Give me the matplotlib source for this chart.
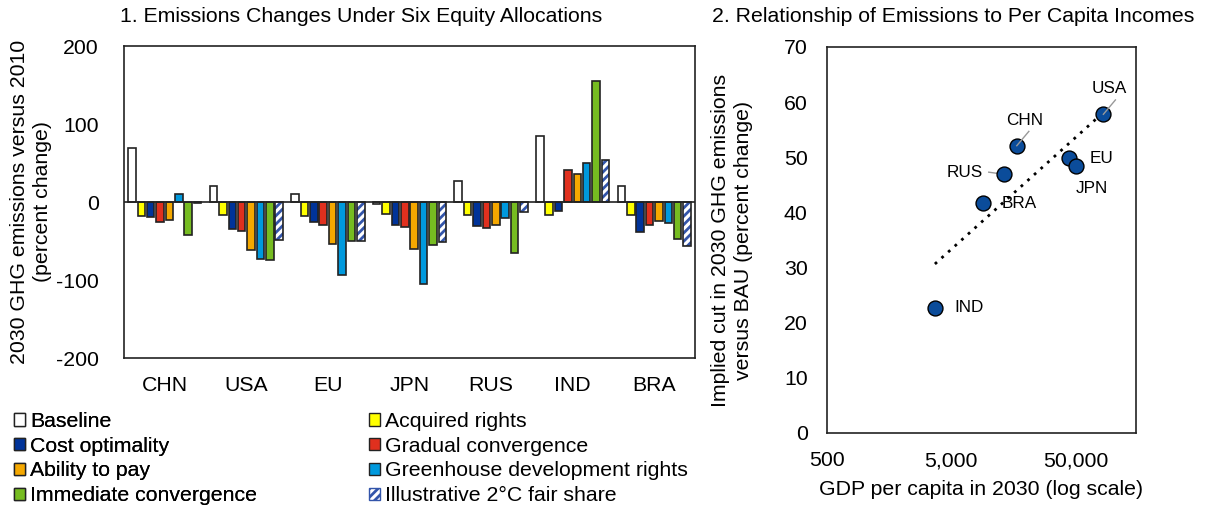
import numpy as np
import matplotlib
matplotlib.use("Agg")
import matplotlib.pyplot as plt
from matplotlib.patches import Patch

plt.rcParams["font.family"] = ["Liberation Sans", "DejaVu Sans"]
plt.rcParams["hatch.linewidth"] = 2.0
plt.rcParams["axes.unicode_minus"] = False

# Panel 1 data
regions = ["CHN", "USA", "EU", "JPN", "RUS", "IND", "BRA"]
allocations = ["Baseline", "Acquired rights", "Cost optimality", "Gradual convergence",
               "Ability to pay", "Greenhouse development rights",
               "Immediate convergence", "Illustrative 2°C fair share"]
baseline = [69, 21, 10, -2.5, 27, 85, 20]
acquired = [-17.5, -17, -18, -16, -17, -17, -17]
cost_opt = [-19, -35, -25, -30, -31, -11, -38]
gradual = [-25.5, -37, -30, -32, -33, 41, -29.5]
ability = [-22.5, -61, -54, -60, -29, 36, -24]
gdr = [10, -73.5, -94, -105.5, -20, 50, -26.5]
immediate = [-42, -74, -50, -55.5, -66, 155.5, -48]
fair_share = [-1, -49, -50, -51, -13, 54, -56]
series = [baseline, acquired, cost_opt, gradual, ability, gdr, immediate, fair_share]
colors = ["white", "#FFFF00", "#003399", "#E0301E", "#F5A800", "#0099DD", "#76BC21", "white"]

# Panel 2 data
countries = ["IND", "BRA", "RUS", "CHN", "EU", "JPN", "USA"]
gdp_pc = [3690, 8950, 13370, 16820, 44450, 50000, 83600]
cut = [22.7, 41.7, 46.9, 52.1, 49.8, 48.4, 57.8]

fig = plt.figure(figsize=(12.06, 5.09), dpi=100)
fs = 15.3

# ---- left panel
ax1 = fig.add_axes([124/1206, 1-358/509, 571/1206, 312/509])
x = np.arange(len(regions))
slot = 0.115
w = 0.092
for k, vals in enumerate(series):
    off = (k - 3.5) * slot
    if k == 7:
        ax1.bar(x + off, vals, w, color="white", edgecolor="#3355AA", hatch="////",
                linewidth=0, zorder=2)
        ax1.bar(x + off, vals, w, color="none", edgecolor="#222222", linewidth=1.2, zorder=3)
    else:
        ax1.bar(x + off, vals, w, color=colors[k], edgecolor="#222222", linewidth=1.2, zorder=2)
ax1.axhline(0, color="#222222", lw=1.2, zorder=4)
ax1.set_xlim(-0.5, len(regions) - 0.5)
ax1.set_ylim(-200, 200)
ax1.set_yticks([-200, -100, 0, 100, 200])
ax1.set_xticks(x)
ax1.set_xticklabels(regions)
ax1.tick_params(length=0, labelsize=fs)
ax1.tick_params(axis="x", pad=13)
ax1.tick_params(axis="y", pad=18)
for s in ax1.spines.values():
    s.set_color("#222222")
    s.set_linewidth(1.2)
ax1.set_ylabel("2030 GHG emissions versus 2010\n(percent change)", fontsize=fs, labelpad=3,
               linespacing=1.25)
fig.text(120/1206, 1-17/509, "1. Emissions Changes Under Six Equity Allocations",
         fontsize=fs, va="center", ha="left")

handles = []
for k, lab in enumerate(allocations):
    if k == 7:
        handles.append(Patch(facecolor="white", edgecolor="#3355AA", hatch="////", label=lab))
    else:
        handles.append(Patch(facecolor=colors[k], edgecolor="#222222", label=lab))
leg_kw = dict(loc="upper left", ncol=1, frameon=False, fontsize=fs, handlelength=0.5,
              handleheight=0.5, handletextpad=0.25, labelspacing=0.27,
              borderpad=0, borderaxespad=0)
leg1 = fig.legend([handles[i] for i in (0, 2, 4, 6)], [allocations[i] for i in (0, 2, 4, 6)],
                  bbox_to_anchor=(14/1206, 1-412/509), **leg_kw)
fig.add_artist(leg1)
fig.legend([handles[i] for i in (1, 3, 5, 7)], [allocations[i] for i in (1, 3, 5, 7)],
           bbox_to_anchor=(369/1206, 1-412/509), **leg_kw)

# ---- right panel
ax2 = fig.add_axes([827/1206, 1-433/509, 309/1206, 386/509])
ax2.set_xscale("log")
ax2.set_xlim(500, 153000)
ax2.set_ylim(0, 70)
ax2.set_yticks(range(0, 71, 10))
ax2.set_xticks([500, 5000, 50000])
ax2.set_xticklabels(["500", "5,000", "50,000"])
ax2.minorticks_off()
ax2.tick_params(length=0, labelsize=fs)
ax2.tick_params(axis="x", pad=13)
ax2.tick_params(axis="y", pad=14)
for s in ax2.spines.values():
    s.set_color("#222222")
    s.set_linewidth(1.2)

lx = np.log10(gdp_pc)
slope, icpt = np.polyfit(lx, cut, 1)
xs = np.array([min(gdp_pc), max(gdp_pc)])
ax2.plot(xs, slope * np.log10(xs) + icpt, ls=(0, (1, 2.2)), color="black", lw=2, zorder=2)
ax2.scatter(gdp_pc, cut, s=115, color="#0B4C9A", edgecolor="black", linewidth=1, zorder=3)

# label x, label y, alignment
lbl_pos = {"IND": (5.3e3, 22.7, "left"), "BRA": (12.8e3, 41.7, "left"),
           "RUS": (9.0e3, 47.3, "right"), "CHN": (19.4e3, 56.6, "center"),
           "EU": (64.9e3, 49.7, "left"), "JPN": (50e3, 44.4, "left"),
           "USA": (94e3, 62.4, "center")}
for c, gx, gy in zip(countries, gdp_pc, cut):
    tx, ty, ha = lbl_pos[c]
    ax2.text(tx, ty, c, fontsize=12.3, ha=ha, va="center", zorder=5)
    if c == "RUS":
        ax2.plot([10.0e3, gx], [47.3, gy], color="#999999", lw=1, zorder=2.5)
    elif c in ("CHN", "USA"):
        ax2.plot([gx * 1.25, gx], [gy + 2.6, gy], color="#999999", lw=1, zorder=4)

ax2.set_ylabel("Implied cut in 2030 GHG emissions\nversus BAU (percent change)", fontsize=fs,
               labelpad=22, linespacing=1.25)
ax2.set_xlabel("GDP per capita in 2030 (log scale)", fontsize=fs, labelpad=7)
fig.text(712/1206, 1-17/509, "2. Relationship of Emissions to Per Capita Incomes",
         fontsize=fs, va="center", ha="left")

fig.savefig("out.png", dpi=100)
